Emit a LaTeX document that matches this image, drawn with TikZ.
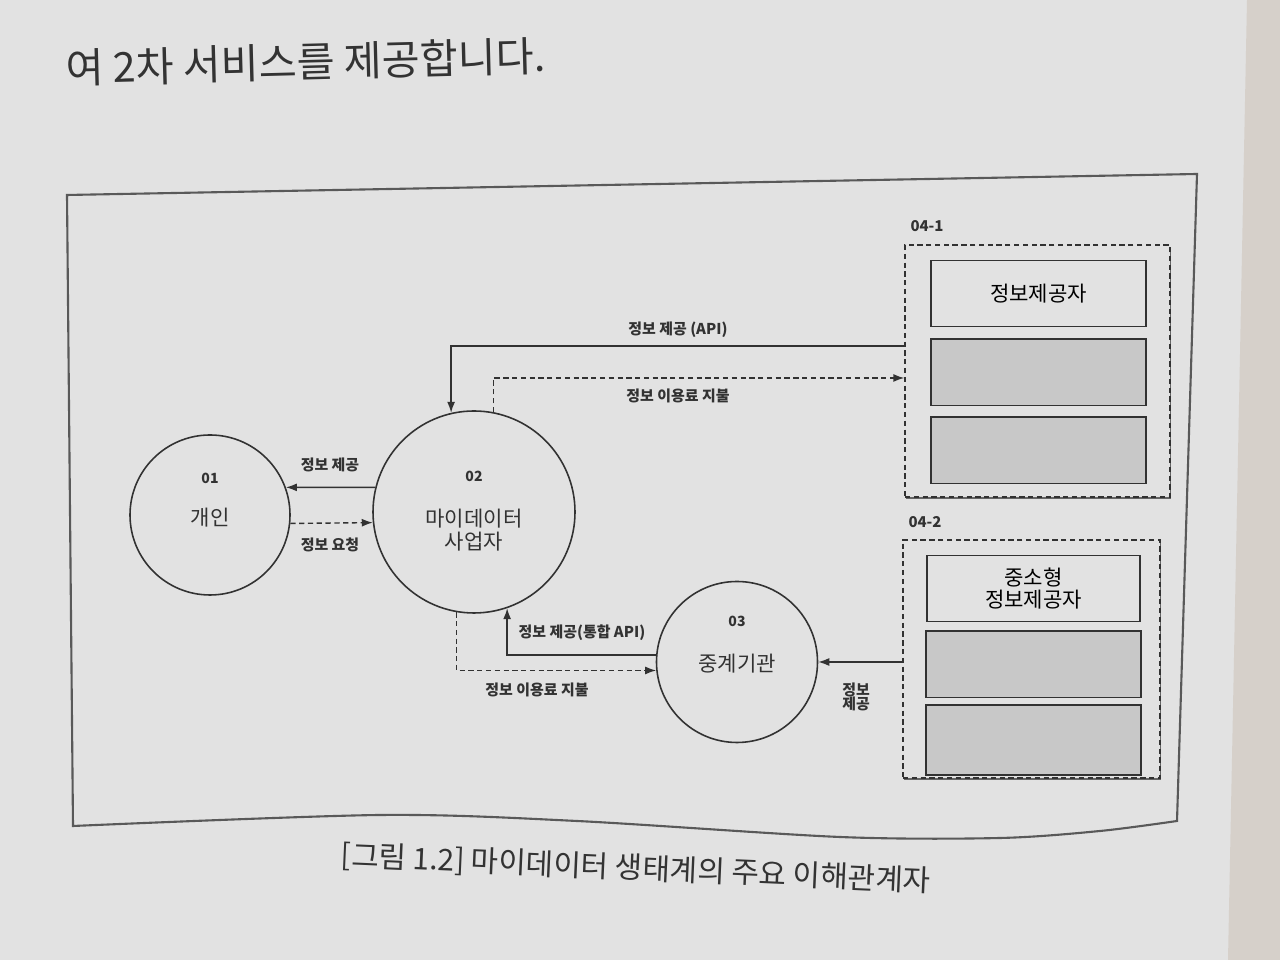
\documentclass[tikz,border=0pt]{standalone}
\usepackage{fontspec}
\setmainfont{Noto Sans CJK KR}
\usetikzlibrary{arrows.meta,shadows,positioning,calc}
\definecolor{paper}{RGB}{226,226,226}
\definecolor{spine}{RGB}{214,208,202}
\definecolor{ink}{RGB}{50,50,50}
\definecolor{slotgray}{RGB}{200,200,200}

\begin{document}
\begin{tikzpicture}[
    party/.style={circle,draw=ink,line width=0.9pt,fill=paper},
    num/.style={font=\fontsize{8}{9}\selectfont\bfseries,text=ink},
    partytext/.style={font=\fontsize{12}{14}\selectfont,text=ink,align=center},
    tag/.style={font=\fontsize{8.5}{10}\selectfont\bfseries,text=ink,align=center},
    provgroup/.style={draw=ink,dash pattern=on 3pt off 2pt,line width=0.8pt,fill=paper,
                  drop shadow={shadow xshift=0.6pt,shadow yshift=-1.4pt,opacity=0.55,fill=black}},
    slot/.style={draw=ink,line width=0.8pt,minimum width=4.3cm,minimum height=1.33cm,inner sep=0pt},
    flow/.style={draw=ink,line width=0.8pt,-{Latex[length=2.2mm,width=1.6mm]}},
    pay/.style={flow,dash pattern=on 3pt off 2pt}
  ]
  % page
  \useasboundingbox (0,0) rectangle (25.6,19.2);
  \fill[paper] (0,0) rectangle (25.6,19.2);
  \fill[spine] (24.94,19.2) -- (25.6,19.2) -- (25.6,0) -- (24.56,0) -- cycle;
  \node[rotate=1.5,font=\fontsize{23.5}{27}\selectfont,text=black!80] (lead) at (6.12,17.96)
    {여 2차 서비스를 제공합니다.};

  % frame
  \draw[draw=black!65,line width=1.2pt]
    plot[smooth,tension=0.5] coordinates {(23.54,2.78) (22,2.58) (20,2.44) (16.8,2.46)
      (11.54,2.78) (7.6,2.9) (1.46,2.68)}
    -- (1.34,15.3) -- (23.94,15.72) -- cycle;

  % parties
  \node[party,minimum size=3.2cm] (gaein) at (4.2,8.9) {};
  \node[party,minimum size=4.04cm] (mydata) at (9.48,8.96) {};
  \node[party,minimum size=3.22cm] (relay) at (14.74,5.96) {};

  \node[num] (n01) at ([yshift=0.74cm]gaein.center) {01};
  \node[partytext] (t01) at ([yshift=-0.06cm]gaein.center) {개인};
  \node[num] (n02) at ([yshift=0.72cm]mydata.center) {02};
  \node[partytext] (t02) at ([yshift=-0.36cm]mydata.center) {마이데이터\\[-1pt]사업자};
  \node[num] (n03) at ([yshift=0.82cm]relay.center) {03};
  \node[partytext] (t03) at ([yshift=-0.03cm]relay.center) {중계기관};

  % provider groups
  \node[provgroup,minimum width=5.3cm,minimum height=5.04cm] (g41) at (20.75,11.78) {};
  \node[tag,anchor=south west] (l41) at ([yshift=0.12cm]g41.north west) {04-1};
  \node[slot] (s41a) at (20.77,13.33) {\fontsize{12}{14}\selectfont 정보제공자};
  \node[slot,fill=slotgray,below=0.22cm of s41a] (s41b) {};
  \node[slot,fill=slotgray,below=0.2cm of s41b] (s41c) {};

  \node[provgroup,minimum width=5.14cm,minimum height=4.76cm] (g42) at (20.63,6.02) {};
  \node[tag,anchor=south west] (l42) at ([yshift=0.1cm]g42.north west) {04-2};
  \node[slot,minimum width=4.26cm,align=center,font=\fontsize{12}{14}\selectfont] (s42a) at (20.67,7.43)
    {중소형\\[-2pt]정보제공자};
  \node[slot,fill=slotgray,below=0.16cm of s42a] (s42b) {};
  \node[slot,fill=slotgray,minimum height=1.4cm,below=0.12cm of s42b] (s42c) {};

  % connectors
  \draw[flow] ([yshift=0.5cm]g41.west) -| (mydata.103);
  \draw[pay] (mydata.79) |- ([yshift=-0.14cm]g41.west);
  \draw[flow] (mydata.166) -- (gaein.20);
  \draw[pay] (gaein.-6) -- (mydata.186);
  \draw[flow] (relay.175) -| (mydata.-71);
  \draw[pay] (mydata.-100) |- (relay.186);
  \draw[flow] (g42.west |- relay.east) -- (relay.east);

  % connector labels
  \node[tag] (lapi) at (13.56,12.6) {정보 제공 (API)};
  \node[tag] (lfee) at (13.56,11.28) {정보 이용료 지불};
  \node[tag] (lgive) at (6.6,9.9) {정보 제공};
  \node[tag] (lask) at (6.6,8.3) {정보 요청};
  \node[tag] (lhub) at (11.64,6.54) {정보 제공(통합 API)};
  \node[tag] (lfee2) at (10.74,5.4) {정보 이용료 지불};
  \node[tag] (lsmall) at (17.12,5.26) {정보\\[-2pt]제공};

  % caption
  \node[rotate=-2.5,font=\fontsize{17}{20}\selectfont,text=black!80] (caption) at (12.72,1.82)
    {[그림 1.2] 마이데이터 생태계의 주요 이해관계자};
\end{tikzpicture}
\end{document}
